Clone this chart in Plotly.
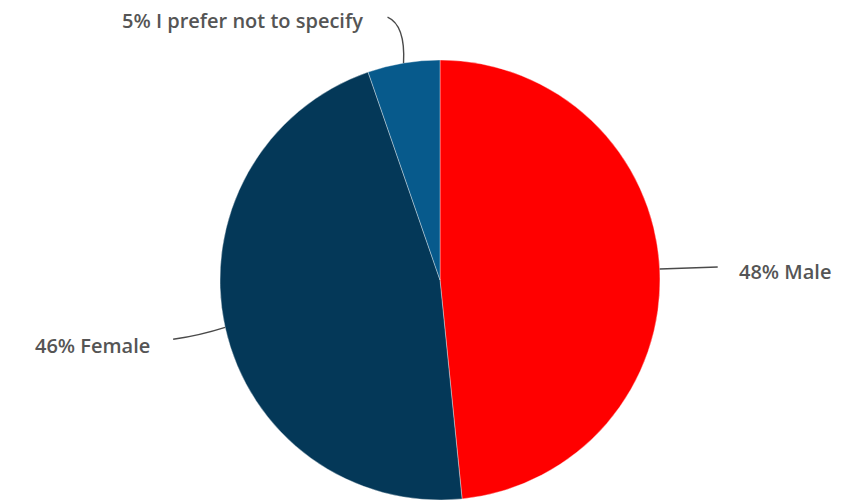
import math
import plotly.graph_objects as go

labels = ["Male", "Female", "I prefer not to specify"]
values = [48.4, 46.3, 5.3]
label_texts = ["48% Male", "46% Female", "5% I prefer not to specify"]
colors = ["#FF0000", "#043858", "#075A8C"]

W, H = 856, 501
OFF = 8  # page body margin in the browser
cx, cy, r = 440, 280, 220  # window pixel coordinates


def px2paper(px, py):
    return (px - OFF) / W, 1 - (py - OFF) / H


dx0, dy0 = px2paper(cx - r, cy + r)
dx1, dy1 = px2paper(cx + r, cy - r)

fig = go.Figure(go.Pie(
    labels=labels,
    values=values,
    sort=False,
    direction="clockwise",
    rotation=0,
    textinfo="none",
    hoverinfo="label+percent",
    marker=dict(colors=colors, line=dict(color="rgba(255,255,255,0.6)", width=0.6)),
    domain=dict(x=[dx0, dx1], y=[dy0, dy1]),
    showlegend=False,
))

# leader line end offsets, control offsets and text offsets (pixels, from slice edge)
line_end = [(58, -2), (-52, 12), (-16, -46)]
line_ctrl = [(30, -1), (-25, 8), (2, -38)]
text_off = [(77, 3), (-73, 18), (-39, -43)]
anchors = ["left", "right", "right"]

total = sum(values)
cum = 0
annotations = []
shapes = []
for i, v in enumerate(values):
    mid = (cum + v / 2) / total * 2 * math.pi
    cum += v
    px = cx + r * math.sin(mid)
    py = cy - r * math.cos(mid)
    x0, y0 = px2paper(px, py)
    xc, yc = px2paper(px + line_ctrl[i][0], py + line_ctrl[i][1])
    x1, y1 = px2paper(px + line_end[i][0], py + line_end[i][1])
    shapes.append(dict(
        type="path", xref="paper", yref="paper",
        path=f"M {x0},{y0} Q {xc},{yc} {x1},{y1}",
        line=dict(color="#4a4a4a", width=1.4),
    ))
    tx, ty = px2paper(px + text_off[i][0], py + text_off[i][1])
    annotations.append(dict(
        x=tx, y=ty, xref="paper", yref="paper", text=label_texts[i], showarrow=False,
        xanchor=anchors[i], yanchor="middle",
        font=dict(family="Open Sans", size=20, color="#555555", weight=600),
    ))

fig.update_layout(
    width=W, height=H,
    margin=dict(l=0, r=0, t=0, b=0),
    paper_bgcolor="white", plot_bgcolor="white",
    annotations=annotations,
    shapes=shapes,
)

fig.write_html("out.html")
